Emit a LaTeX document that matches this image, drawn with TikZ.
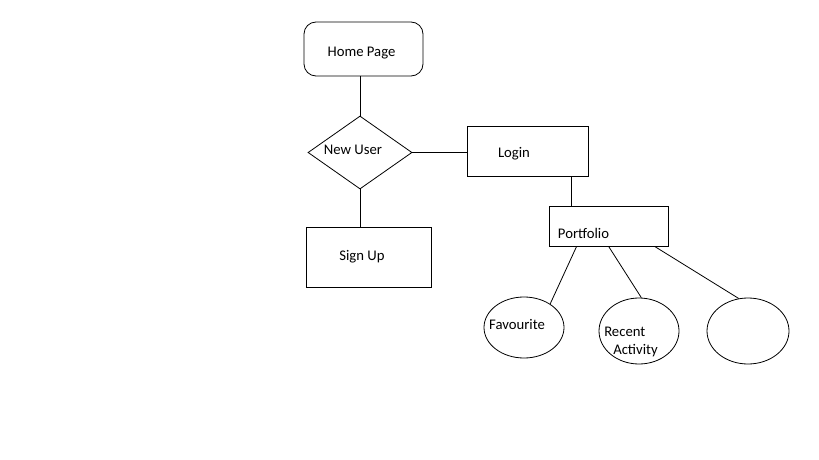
\documentclass[tikz,border=0pt]{standalone}
\usepackage{fontspec}
\setmainfont{Carlito}
\usepackage{tikz}
\usetikzlibrary{positioning, shapes.geometric}
\tikzstyle{page} = [rectangle, draw, rounded corners=12pt, minimum width=119pt, minimum height=54pt]
\tikzstyle{block} = [rectangle, draw, minimum width=121pt, minimum height=50pt]
\tikzstyle{decision} = [diamond, draw, inner sep=0pt, minimum width=104pt, minimum height=73pt]
\tikzstyle{item} = [ellipse, draw, inner sep=0pt, minimum width=80pt, minimum height=64pt]

\begin{document}
\begin{tikzpicture}[x=1pt, y=-1pt, line width=0.8pt, font=\fontsize{14.7}{18}\selectfont]
    \useasboundingbox (0,0) rectangle (819,460);
    % Nodes
    \node [page] (home) at (363.5,49) {};
    \node at ([xshift=-2pt,yshift=-4pt]home.center) {Home Page};

    \node [decision] (newuser) at (360,152.5) {};
    \node at ([xshift=-7pt,yshift=3pt]newuser.center) {New User};

    \node [block] (login) at (527.5,151) {};
    \node at ([xshift=-13.5pt,yshift=-3pt]login.center) {Login};

    \node [block, minimum width=119pt, minimum height=40pt] (portfolio) at (608.5,226) {};
    \node at ([xshift=-25pt,yshift=-7pt]portfolio.center) {Portfolio};

    \node [block, minimum width=125pt, minimum height=60pt] (signup) at (368.5,257) {};
    \node at ([xshift=-6.5pt]signup.center) {Sign Up};

    \node [item, minimum height=61pt] (fav) at (524,327.5) {};
    \node at ([xshift=-7pt,yshift=3.5pt]fav.center) {Favourite};

    \node [item, minimum height=66pt] (recent) at (639,331) {};
    \node [align=left] at ([xshift=-8pt,yshift=-11pt]recent.center) {Recent\\\hspace{9pt}Activity};

    \node [item, minimum width=82pt, minimum height=66pt] (other) at (748,331) {};

    % Connections
    \draw (newuser.north |- home.south) -- (newuser.north);
    \draw (newuser.east) -- (newuser.east -| login.west);
    \draw (newuser.south) -- (newuser.south |- signup.north);
    \draw ([xshift=-17pt]login.south east) -- ([xshift=-17pt]login.south east |- portfolio.north);
    \draw ([xshift=28pt]portfolio.south west) -- (fav.42);
    \draw ([xshift=60pt]portfolio.south west) -- (recent.86);
    \draw ([xshift=106pt]portfolio.south west) -- (other.106);
\end{tikzpicture}
\end{document}
